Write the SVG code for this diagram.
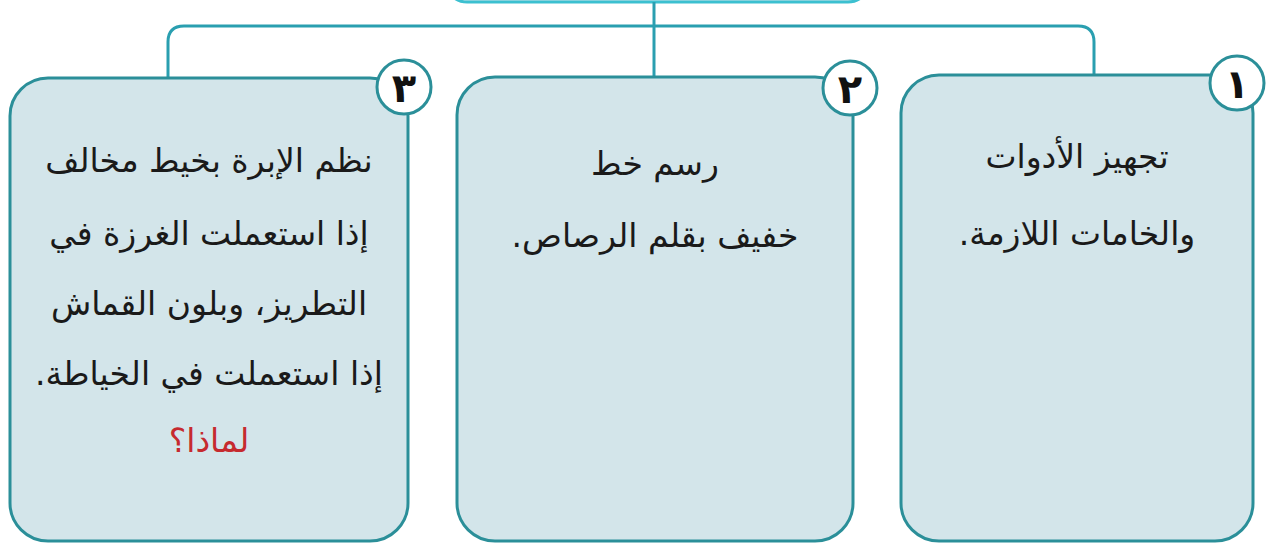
<svg xmlns="http://www.w3.org/2000/svg" width="1269" height="545" viewBox="0 0 1269 545">
<style>
.box{fill:#d3e5ea;stroke:#2b8f99;stroke-width:3}
.num{fill:#ffffff;stroke:#2b8f99;stroke-width:3}
.conn{fill:none;stroke:#2a9fb0;stroke-width:3}
.t{font-family:"DejaVu Sans","Noto Sans",sans-serif;font-size:33px;fill:#1a1a1a;text-anchor:middle}
.n{font-family:"DejaVu Sans","Noto Sans",sans-serif;font-size:40px;font-weight:bold;fill:#111;text-anchor:middle}
.red{fill:#c62a2f}
</style>
<rect width="1269" height="545" fill="#ffffff"/>
<g id="top">
<rect x="445" y="-60" width="425" height="62" rx="22" fill="#d3e5ea" stroke="#3cc0d0" stroke-width="3"/>
</g>
<g id="connectors">
<path class="conn" d="M654 2 V77"/>
<path class="conn" d="M168 78 V42 Q168 26 184 26 H1078 Q1094 26 1094 42 V76"/>
</g>
<g id="node3">
<rect class="box" x="10" y="78" width="398" height="463" rx="38"/>
<circle class="num" cx="404" cy="87" r="27"/>
<text class="n" x="404" y="102" direction="rtl">٣</text>
<text class="t" x="209" y="172" direction="rtl">نظم الإبرة بخيط مخالف</text>
<text class="t" x="209" y="245" direction="rtl">إذا استعملت الغرزة في</text>
<text class="t" x="209" y="315" direction="rtl">التطريز، وبلون القماش</text>
<text class="t" x="209" y="385" direction="rtl">إذا استعملت في الخياطة.</text>
<text class="t red" x="209" y="452" direction="rtl">لماذا؟</text>
</g>
<g id="node2">
<rect class="box" x="457" y="77" width="396" height="464" rx="38"/>
<circle class="num" cx="850" cy="88" r="27"/>
<text class="n" x="850" y="103" direction="rtl">٢</text>
<text class="t" x="655" y="175" direction="rtl">رسم خط</text>
<text class="t" x="655" y="247" direction="rtl">خفيف بقلم الرصاص.</text>
</g>
<g id="node1">
<rect class="box" x="901" y="75" width="352" height="466" rx="38"/>
<circle class="num" cx="1237" cy="83" r="27"/>
<text class="n" x="1237" y="98" direction="rtl">١</text>
<text class="t" x="1077" y="168" direction="rtl">تجهيز الأدوات</text>
<text class="t" x="1077" y="245" direction="rtl">والخامات اللازمة.</text>
</g>
</svg>
